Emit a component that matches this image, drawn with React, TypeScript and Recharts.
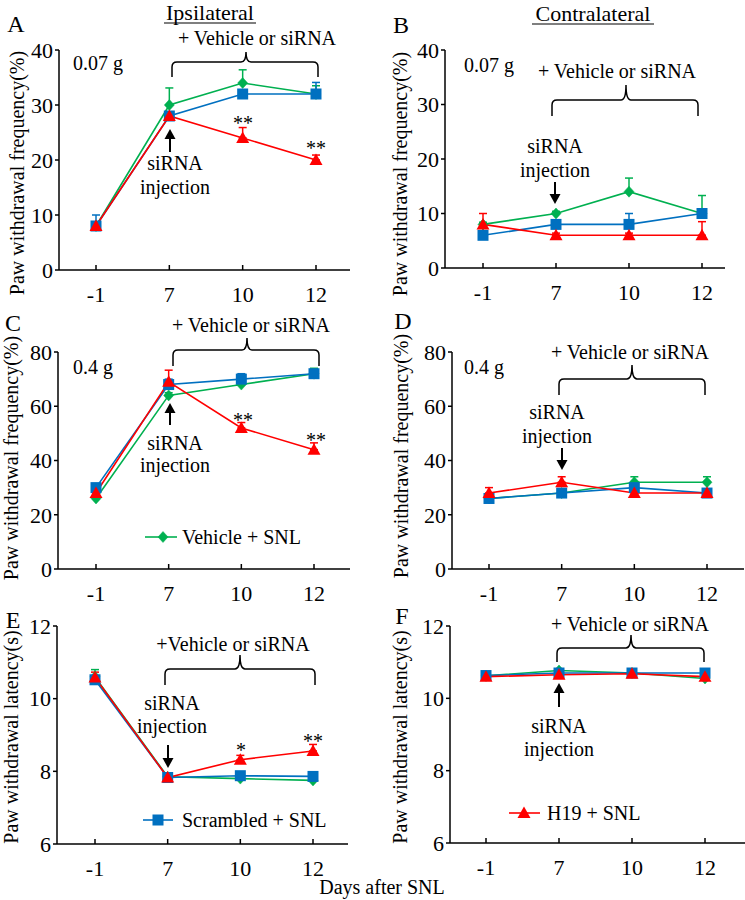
import React from 'react';
import { LineChart, Line, XAxis, YAxis, ErrorBar } from 'recharts';

const FONT = '"Liberation Serif", "Times New Roman", Times, serif';
const GREEN = '#00B050';
const BLUE = '#0070C0';
const RED = '#FF0000';

// Categories (days after SNL)
const days = ['-1', '7', '10', '12'];

// Panel A: ipsilateral, 0.07 g
const aVehicle = [8, 30, 34, 32];
const aVehicleErr = [0.5, 3.1, 2.4, 1.5];
const aScrambled = [8, 28, 32, 32];
const aScrambledErr = [2, 0.6, 0.6, 2.1];
const aH19 = [8, 28, 24, 20];
const aH19Err = [0.4, 0.4, 1.9, 0.9];

// Panel B: contralateral, 0.07 g
const bVehicle = [8, 10, 14, 10];
const bVehicleErr = [0.4, 0.4, 2.5, 3.3];
const bScrambled = [6, 8, 8, 10];
const bScrambledErr = [2, 0.5, 2, 0.5];
const bH19 = [8, 6, 6, 6];
const bH19Err = [2, 0.4, 0.4, 2.5];

// Panel C: ipsilateral, 0.4 g
const cVehicle = [26, 64, 68, 72];
const cVehicleErr = [0.5, 1, 1, 2];
const cScrambled = [30, 68, 70, 72];
const cScrambledErr = [0.5, 2, 2, 1];
const cH19 = [28, 69, 52, 44];
const cH19Err = [0.5, 4.3, 2, 2.5];

// Panel D: contralateral, 0.4 g
const dVehicle = [26, 28, 32, 32];
const dVehicleErr = [0.5, 0.5, 2, 2];
const dScrambled = [26, 28, 30, 28];
const dScrambledErr = [1, 0.5, 0.5, 0.5];
const dH19 = [28, 32, 28, 28];
const dH19Err = [2, 2, 0.5, 0.5];

// Panel E: ipsilateral, latency
const eVehicle = [10.6, 7.85, 7.8, 7.75];
const eVehicleErr = [0.2, 0.05, 0.05, 0.05];
const eScrambled = [10.52, 7.83, 7.88, 7.86];
const eScrambledErr = [0.1, 0.05, 0.05, 0.05];
const eH19 = [10.58, 7.83, 8.32, 8.56];
const eH19Err = [0.15, 0.05, 0.12, 0.18];

// Panel F: contralateral, latency
const fVehicle = [10.62, 10.77, 10.7, 10.55];
const fVehicleErr = [0.04, 0.04, 0.04, 0.04];
const fScrambled = [10.63, 10.7, 10.7, 10.7];
const fScrambledErr = [0.04, 0.04, 0.04, 0.04];
const fH19 = [10.6, 10.65, 10.68, 10.6];
const fH19Err = [0.04, 0.04, 0.04, 0.04];

const freqTicksLow = [0, 10, 20, 30, 40];
const freqTicksHigh = [0, 20, 40, 60, 80];
const latencyTicks = [6, 8, 10, 12];

const build = (
  v: number[], ve: number[], s: number[], se: number[], h: number[], he: number[]
) =>
  days.map((d, i) => ({
    day: d,
    veh: v[i], vehErr: [0, ve[i]],
    scr: s[i], scrErr: [0, se[i]],
    h19: h[i], h19Err: [0, he[i]],
  }));

const dataA = build(aVehicle, aVehicleErr, aScrambled, aScrambledErr, aH19, aH19Err);
const dataB = build(bVehicle, bVehicleErr, bScrambled, bScrambledErr, bH19, bH19Err);
const dataC = build(cVehicle, cVehicleErr, cScrambled, cScrambledErr, cH19, cH19Err);
const dataD = build(dVehicle, dVehicleErr, dScrambled, dScrambledErr, dH19, dH19Err);
const dataE = build(eVehicle, eVehicleErr, eScrambled, eScrambledErr, eH19, eH19Err);
const dataF = build(fVehicle, fVehicleErr, fScrambled, fScrambledErr, fH19, fH19Err);

function Diamond({ cx, cy }: { cx: number; cy: number }) {
  return <polygon points={`${cx},${cy - 5.5} ${cx + 5},${cy} ${cx},${cy + 5.5} ${cx - 5},${cy}`} fill={GREEN} stroke={GREEN} strokeWidth={0.5} />;
}
function Square({ cx, cy }: { cx: number; cy: number }) {
  return <rect x={cx - 5.5} y={cy - 5.5} width={11} height={11} fill={BLUE} />;
}
function Triangle({ cx, cy }: { cx: number; cy: number }) {
  return <polygon points={`${cx},${cy - 6.5} ${cx + 6.5},${cy + 5} ${cx - 6.5},${cy + 5}`} fill={RED} />;
}

const diamondDot = (p: any) => <Diamond key={`g-${p.index}`} cx={p.cx} cy={p.cy} />;
const squareDot = (p: any) => <Square key={`b-${p.index}`} cx={p.cx} cy={p.cy} />;
const triangleDot = (p: any) => <Triangle key={`r-${p.index}`} cx={p.cx} cy={p.cy} />;

function XTick(props: any) {
  const { x, y, payload } = props;
  return (
    <g>
      <line x1={x} x2={x} y1={y} y2={y - 5} stroke="#000" strokeWidth={1.5} />
      <text x={x} y={y + 16} dy="0.71em" textAnchor="middle" fontSize={22} fontFamily={FONT} fill="#000">
        {payload.value}
      </text>
    </g>
  );
}

type PanelProps = {
  data: any[];
  x0: number; x1: number; y0: number; y1: number;
  padL: number; padR: number;
  domain: [number, number];
  ticks: number[];
};

function Panel({ data, x0, x1, y0, y1, padL, padR, domain, ticks }: PanelProps) {
  const L = Math.max(0, x0 - 62);
  const T = y0 - 15;
  const W = x1 - L + 4;
  const H = y1 - T + 36;
  return (
    <div style={{ position: 'absolute', left: L, top: T }}>
      <LineChart
        width={W}
        height={H}
        data={data}
        margin={{ top: y0 - T, right: L + W - x1, bottom: 0, left: 0 }}
      >
        <XAxis
          dataKey="day"
          scale="point"
          padding={{ left: padL, right: padR }}
          height={H - (y1 - T)}
          tickSize={0}
          tickMargin={0}
          tickLine={false}
          tick={<XTick />}
          interval={0}
          axisLine={{ stroke: '#000', strokeWidth: 1.5 }}
        />
        <YAxis
          type="number"
          domain={domain}
          ticks={ticks}
          interval={0}
          width={x0 - L}
          tickSize={4}
          tickMargin={2}
          axisLine={{ stroke: '#000', strokeWidth: 1.5 }}
          tickLine={{ stroke: '#000', strokeWidth: 1.5 }}
          tick={{ fontSize: 22, fontFamily: FONT, fill: '#000' }}
        />
        <Line type="linear" dataKey="veh" stroke={GREEN} strokeWidth={1.6} dot={diamondDot} activeDot={false} isAnimationActive={false}>
          <ErrorBar dataKey="vehErr" direction="y" width={4} stroke={GREEN} strokeWidth={1.5} />
        </Line>
        <Line type="linear" dataKey="scr" stroke={BLUE} strokeWidth={1.6} dot={squareDot} activeDot={false} isAnimationActive={false}>
          <ErrorBar dataKey="scrErr" direction="y" width={4} stroke={BLUE} strokeWidth={1.5} />
        </Line>
        <Line type="linear" dataKey="h19" stroke={RED} strokeWidth={1.6} dot={triangleDot} activeDot={false} isAnimationActive={false}>
          <ErrorBar dataKey="h19Err" direction="y" width={4} stroke={RED} strokeWidth={1.5} />
        </Line>
      </LineChart>
    </div>
  );
}

function Brace({ x1, x2, h, yb, xm, yt }: { x1: number; x2: number; h: number; yb: number; xm: number; yt: number }) {
  const r = 5;
  const d =
    `M${x1},${yb} L${x1},${h + r} Q${x1},${h} ${x1 + r},${h} L${xm - r},${h} Q${xm},${h} ${xm},${yt} ` +
    `M${xm},${yt} Q${xm},${h} ${xm + r},${h} L${x2 - r},${h} Q${x2},${h} ${x2},${h + r} L${x2},${yb}`;
  return <path d={d} fill="none" stroke="#000" strokeWidth={1.5} />;
}

function Arrow({ x, from, to }: { x: number; from: number; to: number }) {
  const dir = to < from ? -1 : 1; // -1 = up
  const base = to - dir * 10;
  return (
    <g>
      <line x1={x} x2={x} y1={from} y2={base} stroke="#000" strokeWidth={2} />
      <polygon points={`${x},${to} ${x - 5.5},${base} ${x + 5.5},${base}`} fill="#000" />
    </g>
  );
}

function Txt({ x, y, children, size = 20, anchor = 'middle' }: any) {
  return (
    <text x={x} y={y} fontSize={size} fontFamily={FONT} fill="#000" textAnchor={anchor} dominantBaseline="central">
      {children}
    </text>
  );
}

function Stars({ x, y, children }: any) {
  return (
    <text x={x} y={y} fontSize={20} fontFamily={FONT} fill="#000" textAnchor="middle">
      {children}
    </text>
  );
}

function YLabel({ x, y, children }: any) {
  return (
    <text transform={`translate(${x},${y}) rotate(-90)`} fontSize={20} fontFamily={FONT} fill="#000" textAnchor="middle" dominantBaseline="central">
      {children}
    </text>
  );
}

function Overlay() {
  return (
    <svg width={745} height={900} style={{ position: 'absolute', left: 0, top: 0, pointerEvents: 'none' }}>
      {/* Headers */}
      <text x={210} y={20} fontSize={22} fontFamily={FONT} textAnchor="middle" fill="#000">Ipsilateral</text>
      <line x1={164} x2={256} y1={23} y2={23} stroke="#000" strokeWidth={1.2} />
      <text x={593} y={21} fontSize={22} fontFamily={FONT} textAnchor="middle" fill="#000">Contralateral</text>
      <line x1={532} x2={654} y1={24} y2={24} stroke="#000" strokeWidth={1.2} />

      {/* Panel letters */}
      <Txt x={16} y={24} size={24}>A</Txt>
      <Txt x={401} y={25} size={24}>B</Txt>
      <Txt x={13} y={323} size={24}>C</Txt>
      <Txt x={403} y={321} size={24}>D</Txt>
      <Txt x={13} y={620} size={24}>E</Txt>
      <Txt x={402} y={616} size={24}>F</Txt>

      {/* Y labels */}
      <YLabel x={17} y={173}>Paw withdrawal frequency(%)</YLabel>
      <YLabel x={400} y={174}>Paw withdrawal frequency(%)</YLabel>
      <YLabel x={11} y={458}>Paw withdrawal frequency(%)</YLabel>
      <YLabel x={401} y={456}>Paw withdrawal frequency(%)</YLabel>
      <YLabel x={11} y={737}>Paw withdrawal latency(s)</YLabel>
      <YLabel x={400} y={737}>Paw withdrawal latency(s)</YLabel>

      {/* Panel A annotations */}
      <Txt x={73} y={63} anchor="start">0.07 g</Txt>
      <Txt x={257} y={38}>+ Vehicle or siRNA</Txt>
      <Brace x1={172} x2={318} h={62} yb={77} xm={246} yt={52} />
      <Arrow x={170} from={152} to={129} />
      <Txt x={175} y={163}>siRNA</Txt>
      <Txt x={175} y={187}>injection</Txt>
      <Stars x={243} y={130}>**</Stars>
      <Stars x={316} y={155}>**</Stars>

      {/* Panel B annotations */}
      <Txt x={464} y={65} anchor="start">0.07 g</Txt>
      <Txt x={617} y={71}>+ Vehicle or siRNA</Txt>
      <Brace x1={552} x2={698} h={100} yb={116} xm={626} yt={85} />
      <Txt x={555} y={146}>siRNA</Txt>
      <Txt x={555} y={170}>injection</Txt>
      <Arrow x={555} from={182} to={204} />

      {/* Panel C annotations */}
      <Txt x={73} y={367} anchor="start">0.4 g</Txt>
      <Txt x={251} y={325}>+ Vehicle or siRNA</Txt>
      <Brace x1={173} x2={319} h={350} yb={366} xm={247} yt={338} />
      <Arrow x={170} from={425} to={403} />
      <Txt x={175} y={443}>siRNA</Txt>
      <Txt x={175} y={465}>injection</Txt>
      <Stars x={243} y={427}>**</Stars>
      <Stars x={316} y={447}>**</Stars>
      <line x1={145} x2={177} y1={537} y2={537} stroke={GREEN} strokeWidth={1.6} />
      <Diamond cx={163} cy={537} />
      <Txt x={182} y={537} anchor="start">Vehicle + SNL</Txt>

      {/* Panel D annotations */}
      <Txt x={464} y={367} anchor="start">0.4 g</Txt>
      <Txt x={630} y={352}>+ Vehicle or siRNA</Txt>
      <Brace x1={559} x2={705} h={379} yb={395} xm={632} yt={365} />
      <Txt x={557} y={412}>siRNA</Txt>
      <Txt x={557} y={436}>injection</Txt>
      <Arrow x={562} from={448} to={470} />

      {/* Panel E annotations */}
      <Txt x={233} y={644}>+Vehicle or siRNA</Txt>
      <Brace x1={165} x2={315} h={669} yb={685} xm={240} yt={655} />
      <Txt x={172} y={703}>siRNA</Txt>
      <Txt x={172} y={726}>injection</Txt>
      <Arrow x={168} from={745} to={768} />
      <Stars x={241} y={757}>*</Stars>
      <Stars x={313} y={748}>**</Stars>
      <line x1={143} x2={173} y1={820} y2={820} stroke={BLUE} strokeWidth={1.6} />
      <Square cx={158} cy={820} />
      <Txt x={182} y={820} anchor="start">Scrambled + SNL</Txt>

      {/* Panel F annotations */}
      <Txt x={630} y={624}>+ Vehicle or siRNA</Txt>
      <Brace x1={557} x2={704} h={648} yb={662} xm={631} yt={635} />
      <Arrow x={559} from={707} to={683} />
      <Txt x={559} y={726}>siRNA</Txt>
      <Txt x={559} y={749}>injection</Txt>
      <line x1={509} x2={540} y1={813} y2={813} stroke={RED} strokeWidth={1.6} />
      <Triangle cx={524} cy={813} />
      <Txt x={547} y={813} anchor="start">H19 + SNL</Txt>

      {/* Shared x label */}
      <Txt x={382} y={887}>Days after SNL</Txt>
    </svg>
  );
}

export default function App() {
  return (
    <div style={{ position: 'absolute', left: 0, top: 0, width: 745, height: 900, background: '#fff', overflow: 'hidden' }}>
      <Panel data={dataA} x0={59} x1={350} y0={50} y1={270} padL={37} padR={34} domain={[0, 40]} ticks={freqTicksLow} />
      <Panel data={dataB} x0={445} x1={725} y0={50} y1={268} padL={38} padR={23} domain={[0, 40]} ticks={freqTicksLow} />
      <Panel data={dataC} x0={58} x1={350} y0={352} y1={569} padL={38} padR={36} domain={[0, 80]} ticks={freqTicksHigh} />
      <Panel data={dataD} x0={452} x1={744} y0={352} y1={569} padL={37} padR={37} domain={[0, 80]} ticks={freqTicksHigh} />
      <Panel data={dataE} x0={57} x1={348} y0={626} y1={844} padL={38} padR={35} domain={[6, 12]} ticks={latencyTicks} />
      <Panel data={dataF} x0={450} x1={745} y0={626} y1={843} padL={36} padR={40} domain={[6, 12]} ticks={latencyTicks} />
      <Overlay />
    </div>
  );
}
